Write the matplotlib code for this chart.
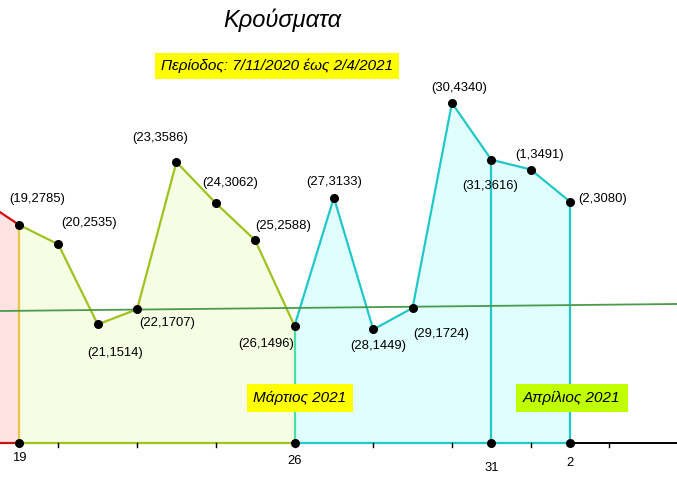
import matplotlib
import matplotlib.pyplot as plt

matplotlib.use("Agg")

plt.rcParams["font.family"] = ["Liberation Sans", "DejaVu Sans"]

# days shown (1 and 2 of April continue after 31 March)
day_labels = ["19", "20", "21", "22", "23", "24", "25", "26", "27", "28", "29", "30", "31", "1", "2"]
day_pos = [19, 20, 21, 22, 23, 24, 25, 26, 27, 28, 29, 30, 31, 32, 33]
cases = [2785, 2535, 1514, 1707, 3586, 3062, 2588, 1496, 3133, 1449, 1724, 4340, 3616, 3491, 3080]

# previous day (18), only partly visible at the left edge
prev_pos = 18
prev_cases = 3120

# trend line ends
trend_x = [18.5, 35.8]
trend_y = [1685, 1775]

axis_labels = {19: "19", 26: "26", 31: "31", 33: "2"}

label_offsets = [
    (18, -26), (31, -21), (17, 29), (30, 14), (-16, -24), (14, -20), (28, -14),
    (-28, 18), (0, -16), (5, 17), (29, 26), (7, -15), (-1, 26), (9, -15), (33, -3),
]

RED = "#d01010"
PINK = "#ffe2e2"
OLIVE = "#9dc31c"
OLIVE_FILL = "#f6fde4"
CYAN = "#20c8c8"
CYAN_FILL = "#e0fefe"

fig = plt.figure(figsize=(6.77, 4.93), dpi=100)
ax = fig.add_axes([0, 0, 1, 1])
px = 39.36
ax.set_xlim(19 - 19 / px, 19 + 658 / px)
k = 340 / 4340
ax.set_ylim(-50 / k, 443 / k)
ax.set_axis_off()

# left (previous month) part
ax.fill_between([prev_pos, day_pos[0]], [prev_cases, cases[0]], 0, color=PINK, lw=0)
ax.plot([prev_pos, day_pos[0]], [prev_cases, cases[0]], color=RED, lw=1.6)
ax.plot([prev_pos, day_pos[0]], [0, 0], color=RED, lw=1.6)

# February part
i26 = day_pos.index(26)
xs = day_pos[: i26 + 1]
ys = cases[: i26 + 1]
ax.fill_between(xs, ys, 0, color=OLIVE_FILL, lw=0)
ax.plot(xs, ys, color=OLIVE, lw=1.6)
ax.plot([xs[0], xs[-1]], [0, 0], color=OLIVE, lw=1.6)

# March / April part
xs = day_pos[i26:]
ys = cases[i26:]
ax.fill_between(xs, ys, 0, color=CYAN_FILL, lw=0)
ax.plot(xs, ys, color=CYAN, lw=1.6)
ax.plot([xs[0], xs[-1]], [0, 0], color=CYAN, lw=1.6)
ax.plot([day_pos[-1], 40], [0, 0], color="black", lw=1.4)

# vertical markers
vcolors = {19: "#e8c44a", 26: "#48dfa2", 31: CYAN, 33: CYAN}
for pos, col in vcolors.items():
    ax.plot([pos, pos], [0, cases[day_pos.index(pos)]], color=col, lw=1.6)

# small ticks every 2 days
for t in range(20, 36, 2):
    ax.plot([t, t], [0, -45], color="black", lw=1)

# trend line
ax.plot(trend_x, trend_y, color="#4c9a4c", lw=1.3)

# points and labels
ax.plot(day_pos, cases, "o", color="black", ms=5.5, zorder=5)
for pos, lab, val, (dx, dy) in zip(day_pos, day_labels, cases, label_offsets):
    ax.annotate(f"({lab},{val})", (pos, val), xytext=(dx * 0.72, -dy * 0.72),
                textcoords="offset points", ha="center", va="center", fontsize=9.4)

label_dy = {19: 15, 26: 18, 31: 25, 33: 20}
for pos, lab in axis_labels.items():
    ax.plot(pos, 0, "o", color="black", ms=5.5, zorder=5)
    ax.annotate(lab, (pos, 0), xytext=(0, -label_dy[pos] * 0.72),
                textcoords="offset points", ha="center", va="center", fontsize=9.4)

# texts
fig.text(282 / 677, 1 - 20 / 493, "Κρούσματα", ha="center", va="center",
         fontsize=17, style="italic")
fig.text(277 / 677, 1 - 66 / 493, "Περίοδος: 7/11/2020 έως 2/4/2021", ha="center",
         va="center", fontsize=11, style="italic",
         bbox=dict(boxstyle="square,pad=0.4", fc="#ffff00", ec="none"))
fig.text(300 / 677, 1 - 398 / 493, "Μάρτιος 2021", ha="center", va="center",
         fontsize=11, style="italic",
         bbox=dict(boxstyle="square,pad=0.45", fc="#ffff00", ec="none"))
fig.text(572 / 677, 1 - 398 / 493, "Απρίλιος 2021", ha="center", va="center",
         fontsize=11, style="italic",
         bbox=dict(boxstyle="square,pad=0.45", fc="#c0ff00", ec="none"))

fig.savefig("out.png", dpi=100)
